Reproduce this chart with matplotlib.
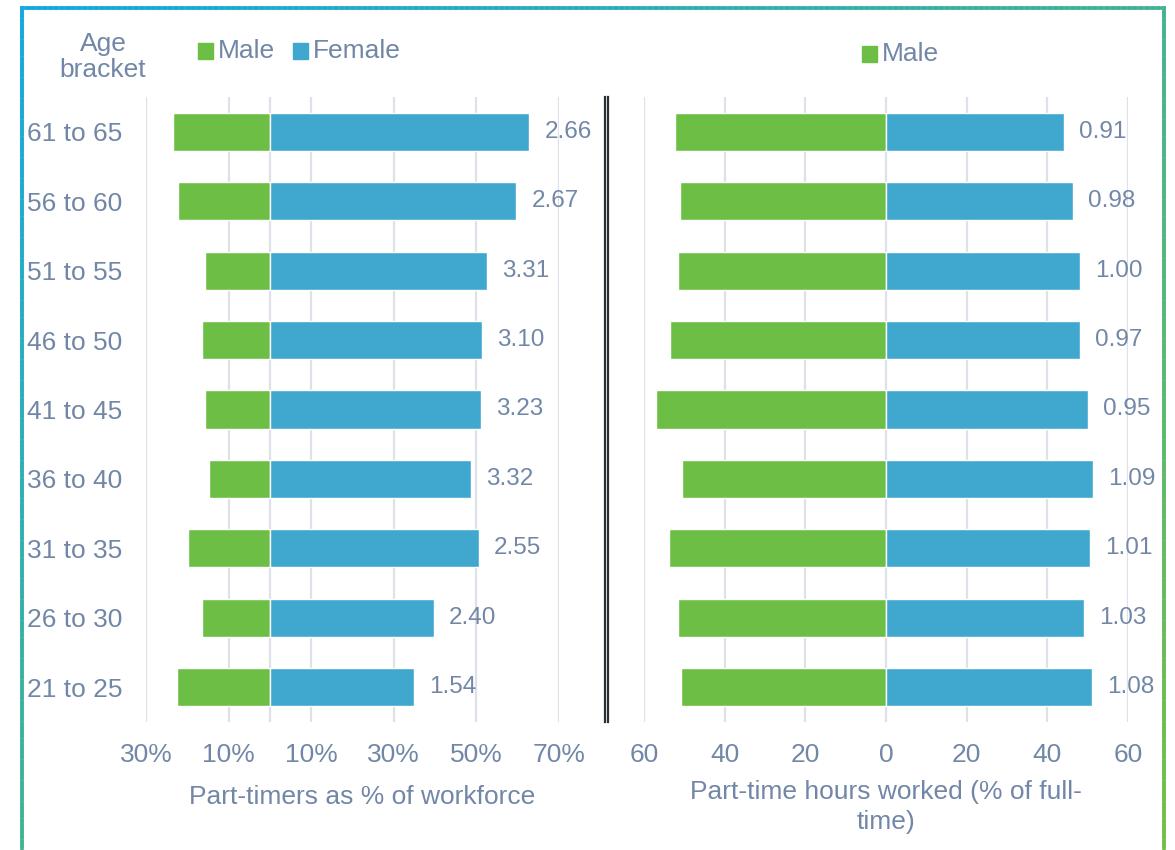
import numpy as np
import matplotlib
matplotlib.use("Agg")
import matplotlib.pyplot as plt
from matplotlib.collections import LineCollection
from matplotlib.lines import Line2D
from matplotlib.patches import Rectangle

plt.rcParams['font.family'] = ['Liberation Sans', 'DejaVu Sans']

# ---------------- data ----------------
age_brackets = ["61 to 65", "56 to 60", "51 to 55", "46 to 50", "41 to 45",
                "36 to 40", "31 to 35", "26 to 30", "21 to 25"]
# Part-timers as % of workforce
pt_male = [23.5, 22.3, 15.7, 16.5, 15.7, 14.8, 19.9, 16.5, 22.5]
pt_female = [62.8, 59.6, 52.6, 51.3, 51.1, 48.7, 50.6, 39.7, 34.8]
pt_ratio_labels = ["2.66", "2.67", "3.31", "3.10", "3.23", "3.32", "2.55", "2.40", "1.54"]
# Part-time hours worked (% of full-time)
hrs_male = [52.3, 51.1, 51.6, 53.5, 57.0, 50.6, 53.8, 51.6, 50.8]
hrs_female = [44.1, 46.3, 48.1, 48.1, 50.1, 51.3, 50.6, 49.1, 51.1]
hrs_ratio_labels = ["0.91", "0.98", "1.00", "0.97", "0.95", "1.09", "1.01", "1.03", "1.08"]

left_ticks = [-30, -10, 10, 30, 50, 70]
left_ticklabels = ["30%", "10%", "10%", "30%", "50%", "70%"]
right_ticks = [-60, -40, -20, 0, 20, 40, 60]
right_ticklabels = ["60", "40", "20", "0", "20", "40", "60"]

GREEN = "#6DBE45"
BLUE = "#40A8CE"
TXT = "#7287A7"
GRID = "#DDE2EA"
FS = 19

W, H = 1175, 850
fig = plt.figure(figsize=(W / 100, H / 100), dpi=100)


def px_axes(x0, x1, y0, y1):
    return fig.add_axes([x0 / W, 1 - y1 / H, (x1 - x0) / W, (y1 - y0) / H])


y = np.arange(len(age_brackets))[::-1]


def style(ax, xlim, ticks, ticklabels, extra_grid):
    ax.set_xlim(*xlim)
    ax.set_ylim(-0.5, len(age_brackets) - 0.5)
    for s in ax.spines.values():
        s.set_visible(False)
    ax.set_xticks(ticks)
    ax.set_xticklabels(ticklabels, fontsize=FS, color=TXT)
    ax.tick_params(axis='x', length=0, pad=15)
    for g in list(ticks) + extra_grid:
        ax.axvline(g, color=GRID, lw=1.6, zorder=0)


# left panel
axL = px_axes(146, 559, 97, 722)
style(axL, (-30, 70), left_ticks, left_ticklabels, [0])
axL.barh(y, [-v for v in pt_male], height=0.55, color=GREEN, edgecolor="white", lw=1, zorder=2)
axL.barh(y, pt_female, height=0.55, color=BLUE, edgecolor="white", lw=1, zorder=2)
for yi, v, lab in zip(y, pt_female, pt_ratio_labels):
    axL.annotate(lab, (v, yi), xytext=(11, 0), textcoords="offset points",
                 ha="left", va="center", fontsize=17.5, color=TXT)
axL.set_yticks(y)
axL.set_yticklabels(age_brackets, fontsize=FS, color=TXT)
axL.tick_params(axis='y', length=0, pad=17)

# right panel
axR = px_axes(644, 1128, 97, 722)
style(axR, (-60, 60), right_ticks, right_ticklabels, [])
axR.barh(y, [-v for v in hrs_male], height=0.55, color=GREEN, edgecolor="white", lw=1, zorder=2)
axR.barh(y, hrs_female, height=0.55, color=BLUE, edgecolor="white", lw=1, zorder=2)
for yi, v, lab in zip(y, hrs_female, hrs_ratio_labels):
    axR.annotate(lab, (v, yi), xytext=(11, 0), textcoords="offset points",
                 ha="left", va="center", fontsize=17.5, color=TXT)
axR.set_yticks([])

# axis titles
fig.text(362 / W, 1 - 797 / H, "Part-timers as % of workforce", ha="center", va="center",
         fontsize=FS, color=TXT)
fig.text(886 / W, 1 - 807 / H, "Part-time hours worked (% of full-\ntime)", ha="center",
         va="center", fontsize=FS, color=TXT, linespacing=1.3)

# header texts / legends
fig.text(103 / W, 1 - 57 / H, "Age\nbracket", ha="center", va="center", fontsize=FS,
         color=TXT, linespacing=1.15)


def legend_item(x_sq, yc, color, label):
    s = 15
    fig.patches.append(Rectangle((x_sq / W, 1 - (yc + s / 2) / H), s / W, s / H,
                                 transform=fig.transFigure, color=color, figure=fig))
    fig.text((x_sq + s + 5) / W, 1 - yc / H, label, ha="left", va="center",
             fontsize=FS, color=TXT)


legend_item(198, 51, GREEN, "Male")
legend_item(293, 51, BLUE, "Female")
legend_item(862, 54, GREEN, "Male")

# double separator line
for xx in (604.5, 608.0):
    fig.add_artist(Line2D([xx / W, xx / W], [1 - 97 / H, 1 - 722 / H], transform=fig.transFigure,
                          color="#2B3033", lw=1.6))

# gradient frame
c0 = np.array([0x12, 0xA8, 0xE0]) / 255
c1 = np.array([0x72, 0xBF, 0x44]) / 255


def grad_line(x0, y0, x1, y1, n=200):
    xs = np.linspace(x0, x1, n + 1)
    ys = np.linspace(y0, y1, n + 1)
    segs = []
    cols = []
    for i in range(n):
        segs.append([(xs[i] / W, 1 - ys[i] / H), (xs[i + 1] / W, 1 - ys[i + 1] / H)])
        xm, ym = (xs[i] + xs[i + 1]) / 2, (ys[i] + ys[i + 1]) / 2
        t = np.clip(((xm - 22) / (1164 - 22) + (ym - 8) / (850 - 8)) / 2, 0, 1)
        cols.append(tuple(c0 * (1 - t) + c1 * t))
    lc = LineCollection(segs, colors=cols, linewidths=2.6, transform=fig.transFigure,
                        capstyle="projecting")
    fig.add_artist(lc)


grad_line(22, 8, 1164, 8)
grad_line(22, 8, 22, 850)
grad_line(1164, 8, 1164, 850)

fig.savefig("out.png", dpi=100)
